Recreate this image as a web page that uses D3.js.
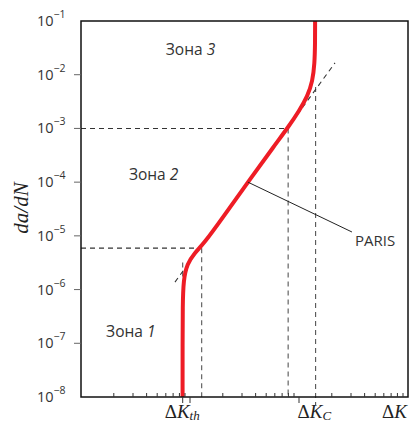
<!DOCTYPE html>
<html>
<head>
	<meta charset="utf-8">
	<script src="https://d3js.org/d3.v7.min.js"></script>
	<style>
		body { margin: 0; background: #fff; }
		text { font-family: 'Open Sans', 'Noto Sans', sans-serif; fill: #333; }
		.serif { font-family: 'Liberation Serif', 'DejaVu Serif', serif; fill: #222; }
	</style>
</head>
<body>
<svg id="chart"></svg>
</body>
<script>
// data
let yTickExp = [-1, -2, -3, -4, -5, -6, -7, -8];

// crack growth curve (dK, da/dN)
let curveDK = [8.55, 8.55, 8.57, 8.7, 9.4, 11.0, 13.5, 20, 34, 60, 80, 100, 120, 133, 139, 140.5, 140.5];
let curveRate = [1e-8, 1e-7, 5e-7, 1.5e-6, 3.0e-6, 4.8e-6, 7.3e-6, 2.2e-5, 1e-4, 4.9e-4, 1.07e-3, 2.1e-3, 4.0e-3, 7.5e-3, 1.6e-2, 4e-2, 1e-1];

// Paris straight line (dashed extension)
let parisDK = [7.28, 214];
let parisRate = [1.38e-6, 1.66e-2];

// guide values
let dkTh = 8.57;
let dkC = 142;
let dkLow = 12.8, rateLow = 5.9e-6;
let dkHigh = 79.5, rateHigh = 1e-3;

let zones = [
	{name: 'Зона ', num: '3', dk: 6.0, rate: 2.3e-2},
	{name: 'Зона ', num: '2', dk: 2.75, rate: 1.1e-4},
	{name: 'Зона ', num: '1', dk: 1.7, rate: 1.3e-7}
];
</script>

<script>
let width = 409, height = 424;
let svg = d3.select('#chart').attr('width', width).attr('height', height);

let x = d3.scaleLog().domain([1, 1000]).range([81, 408]);
let y = d3.scaleLog().domain([1e-8, 1e-1]).range([397, 21]);

let dash = '5,4';

// dashed guides
let guides = svg.append('g')
	.attr('stroke', '#555')
	.attr('stroke-width', 1.1)
	.attr('stroke-dasharray', dash)
	.attr('fill', 'none');

guides.append('line')
	.attr('x1', x(1)).attr('x2', x(dkHigh))
	.attr('y1', y(rateHigh)).attr('y2', y(rateHigh))
	.attr('stroke', '#333');
guides.append('line')
	.attr('x1', x(1)).attr('x2', x(dkLow))
	.attr('y1', y(rateLow)).attr('y2', y(rateLow))
	.attr('stroke', '#333');
guides.append('line')
	.attr('x1', x(dkHigh)).attr('x2', x(dkHigh))
	.attr('y1', y(rateHigh)).attr('y2', y(1e-8));
guides.append('line')
	.attr('x1', x(dkLow)).attr('x2', x(dkLow))
	.attr('y1', y(rateLow)).attr('y2', y(1e-8));
guides.append('line')
	.attr('x1', x(dkTh)).attr('x2', x(dkTh))
	.attr('y1', y(3.2e-6)).attr('y2', y(1e-8));
guides.append('line')
	.attr('x1', x(dkC)).attr('x2', x(dkC))
	.attr('y1', y(5.9e-3)).attr('y2', y(1e-8) + 8);
guides.append('line')
	.attr('x1', x(parisDK[0])).attr('x2', x(parisDK[1]))
	.attr('y1', y(parisRate[0])).attr('y2', y(parisRate[1]))
	.attr('stroke', '#333');

// main curve
let pts = curveDK.map((d, i) => [d, curveRate[i]]);
let line = d3.line()
	.x(d => x(d[0]))
	.y(d => y(d[1]))
	.curve(d3.curveBasis);

svg.append('path')
	.datum(pts)
	.attr('d', line)
	.attr('fill', 'none')
	.attr('stroke', '#ee1c25')
	.attr('stroke-width', 4)
	.attr('stroke-linejoin', 'round');

// PARIS callout
svg.append('line')
	.attr('x1', x(34)).attr('y1', y(1e-4))
	.attr('x2', x(306)).attr('y2', y(1.18e-5))
	.attr('stroke', '#222')
	.attr('stroke-width', 1);
svg.append('text')
	.attr('x', 355).attr('y', 246)
	.attr('font-size', 15)
	.text('PARIS');

// frame
svg.append('rect')
	.attr('x', x(1)).attr('y', y(1e-1))
	.attr('width', x(1000) - x(1))
	.attr('height', y(1e-8) - y(1e-1))
	.attr('fill', 'none')
	.attr('stroke', '#111')
	.attr('stroke-width', 1.5);

// y axis
let yAxis = svg.append('g');
yAxis.selectAll('line')
	.data(yTickExp.filter(e => e > -8 && e < -1))
	.enter().append('line')
	.attr('x1', 74).attr('x2', x(1))
	.attr('y1', e => y(Math.pow(10, e))).attr('y2', e => y(Math.pow(10, e)))
	.attr('stroke', '#666').attr('stroke-width', 1);

let yLab = yAxis.selectAll('text')
	.data(yTickExp)
	.enter().append('text')
	.attr('y', e => y(Math.pow(10, e)) + 5)
	.attr('font-size', 14.5);
yLab.append('tspan')
	.attr('x', 37)
	.text('10');
yLab.append('tspan')
	.attr('dy', -8)
	.attr('font-size', 10.5)
	.text(e => '−' + Math.abs(e));

svg.append('text')
	.attr('class', 'serif')
	.attr('transform', 'translate(28,208) rotate(-90)')
	.attr('text-anchor', 'middle')
	.attr('font-size', 21)
	.attr('font-style', 'italic')
	.text('da/dN');

// x axis ticks
let minor = x.ticks().filter(v => Math.abs(Math.log10(v) % 1) > 1e-6);
let major = [10, 100];
let xAxis = svg.append('g');
xAxis.selectAll('.minor')
	.data(minor)
	.enter().append('line')
	.attr('x1', d => x(d)).attr('x2', d => x(d))
	.attr('y1', y(1e-8)).attr('y2', y(1e-8) - 4)
	.attr('stroke', '#333');
xAxis.selectAll('.major')
	.data(major.concat([dkTh]))
	.enter().append('line')
	.attr('x1', d => x(d)).attr('x2', d => x(d))
	.attr('y1', y(1e-8)).attr('y2', y(1e-8) + 6)
	.attr('stroke', '#333');

// x labels
let xLabels = [
	{dk: dkTh, sub: 'th'},
	{dk: dkC, sub: 'C'},
	{dk: 1000, sub: ''}
];
let xl = svg.selectAll('.xl')
	.data(xLabels)
	.enter().append('text')
	.attr('class', 'serif')
	.attr('font-size', 19)
	.attr('x', d => d.sub === '' ? x(d.dk) - 26 : x(d.dk) - 18)
	.attr('y', 418);
xl.append('tspan').text('Δ');
xl.append('tspan').attr('font-style', 'italic').text('K');
xl.append('tspan')
	.attr('font-style', 'italic')
	.attr('font-size', 13)
	.attr('dy', 2)
	.text(d => d.sub);

// zone labels
let zl = svg.selectAll('.zone')
	.data(zones)
	.enter().append('text')
	.attr('x', d => x(d.dk))
	.attr('y', d => y(d.rate))
	.attr('font-size', 15.5);
zl.append('tspan').text(d => d.name);
zl.append('tspan').attr('font-style', 'italic').text(d => d.num);
</script>
</html>
